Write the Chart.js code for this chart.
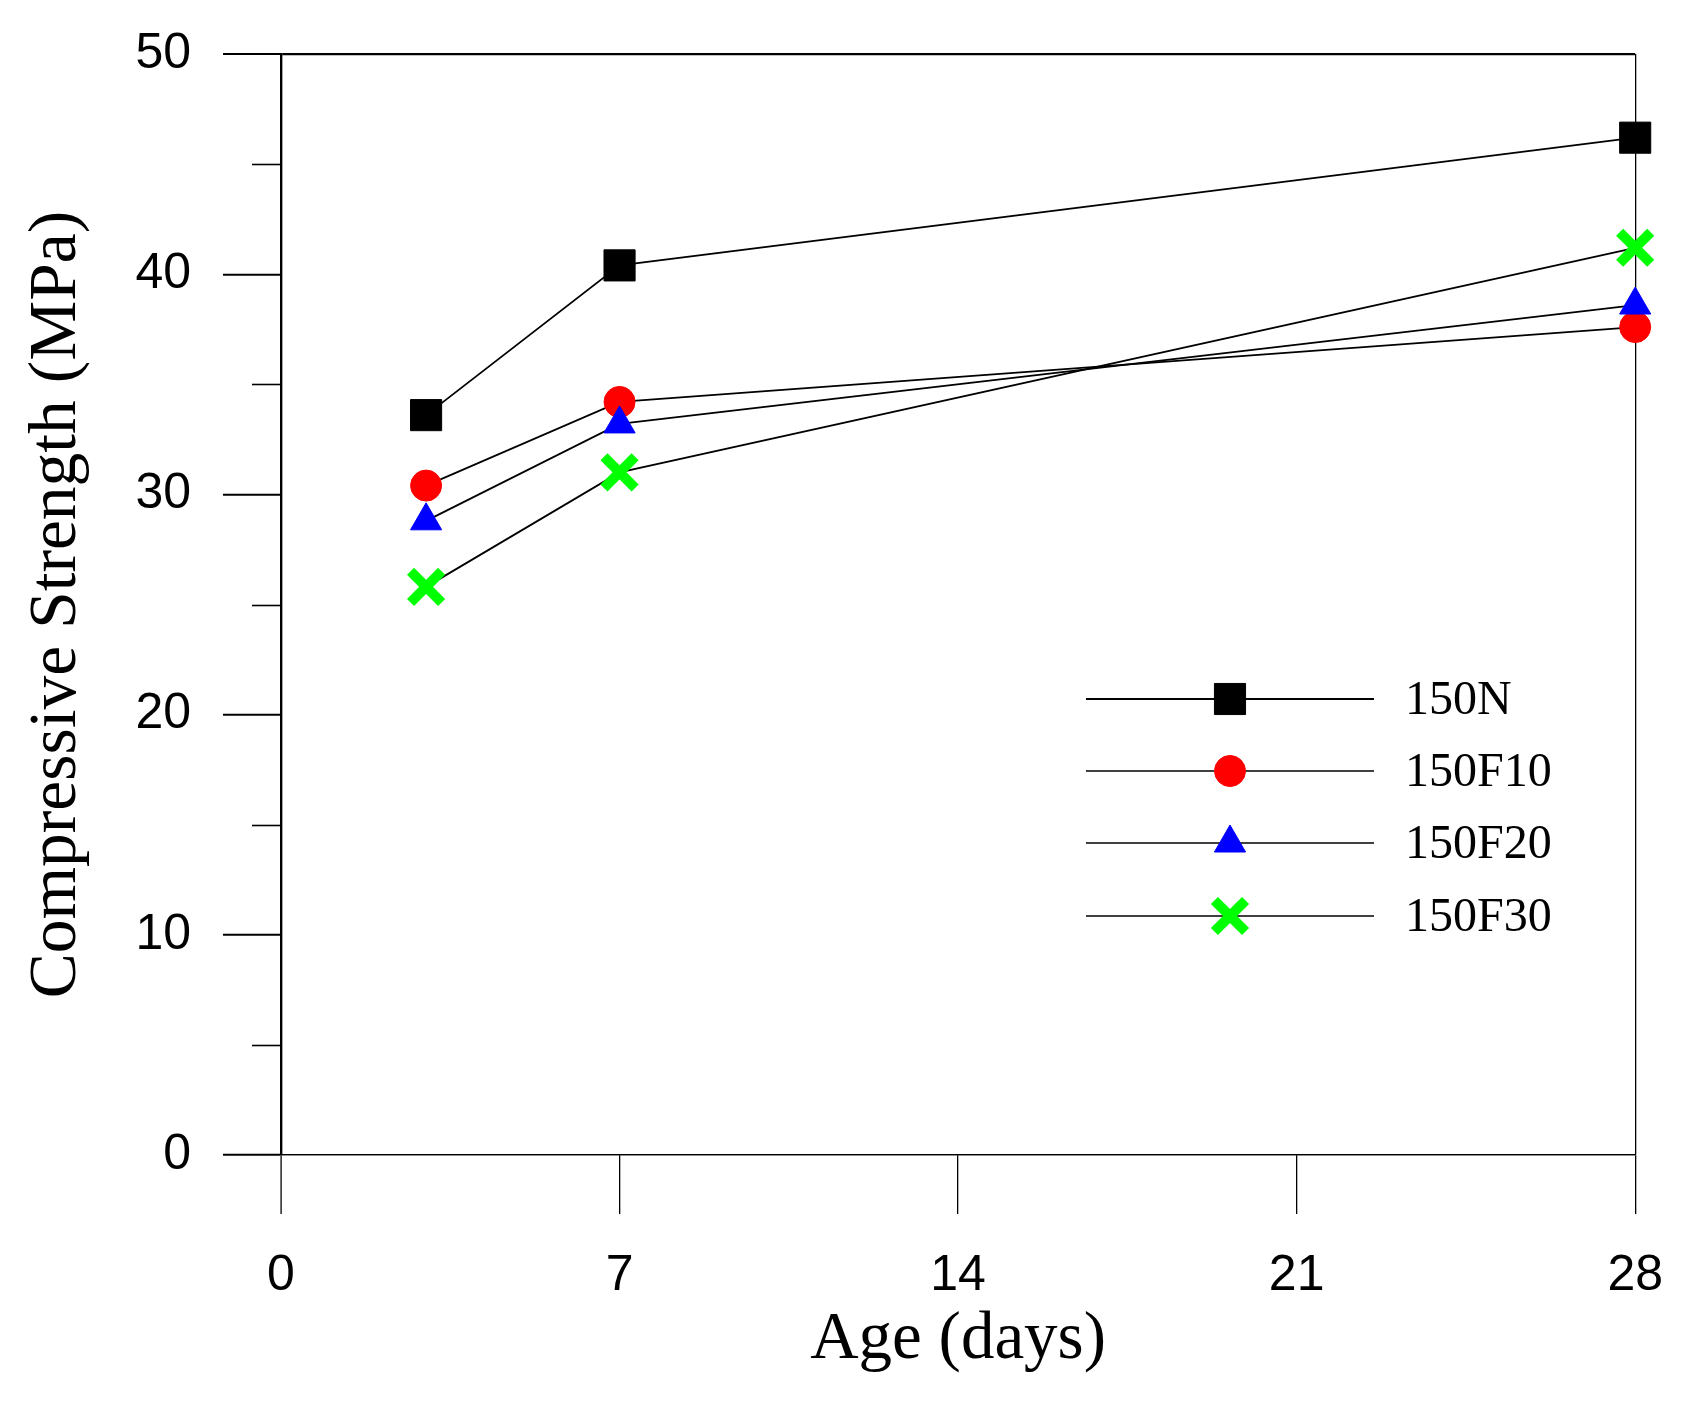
<!DOCTYPE html>
<html>
<head>
<meta charset="utf-8">
<script src="https://cdn.jsdelivr.net/npm/chart.js@4/dist/chart.umd.min.js"></script>
<style>
  html, body { margin: 0; padding: 0; background: #fff; }
  #wrap { width: 1695px; height: 1404px; }
</style>
</head>
<body>
<div id="wrap"><canvas id="strengthChart" width="1695" height="1404"></canvas></div>
<script>
// Age in days and compressive strength (MPa) per mix
const ages = [3, 7, 28];
const mixNames = ['150N', '150F10', '150F20', '150F30'];
const s150N = [33.6, 40.4, 46.2];
const s150F10 = [30.4, 34.2, 37.6];
const s150F20 = [28.8, 33.2, 38.6];
const s150F30 = [25.8, 31.0, 41.2];

const xTickValues = [0, 7, 14, 21, 28];
const yTickValues = [0, 10, 20, 30, 40, 50];
const yMinorValues = [5, 15, 25, 35, 45];

const sansFont = "'Liberation Sans', Arial, sans-serif";
const serifFont = "'Liberation Serif', 'Times New Roman', serif";

function toPoints(values) {
    return ages.map((a, i) => ({ x: a, y: values[i] }));
}

const markers = [
    { style: 'rect', radius: 22, color: '#000000', border: 1, order: 1 },
    { style: 'circle', radius: 15.5, color: '#ff0000', border: 1, order: 3 },
    { style: 'triangle', radius: 18, color: '#0000ff', border: 1, order: 2 },
    { style: 'crossRot', radius: 22, color: '#00ff00', border: 10, order: 0 }
];
const seriesValues = [s150N, s150F10, s150F20, s150F30];

const datasets = mixNames.map((name, i) => ({
    label: name,
    data: toPoints(seriesValues[i]),
    borderColor: '#000000',
    borderWidth: 1.8,
    pointStyle: markers[i].style,
    pointRadius: markers[i].radius,
    pointHoverRadius: markers[i].radius,
    pointBackgroundColor: markers[i].color,
    pointBorderColor: markers[i].color,
    pointBorderWidth: markers[i].border,
    order: markers[i].order,
    clip: false,
    tension: 0
}));

// minor y ticks and the in-plot legend
const extrasPlugin = {
    id: 'extras',
    afterDraw(chart) {
        const ctx = chart.ctx;
        const yScale = chart.scales.y;
        const left = chart.chartArea.left;
        ctx.save();
        ctx.strokeStyle = '#000';
        ctx.lineWidth = 1.6;
        yMinorValues.forEach(v => {
            const py = Math.round(yScale.getPixelForValue(v)) + 0.5;
            ctx.beginPath();
            ctx.moveTo(left - 29, py);
            ctx.lineTo(left, py);
            ctx.stroke();
        });

        // legend
        const lineX0 = 1086, lineX1 = 1374, markX = 1230, textX = 1405;
        const rowY = [699, 771, 843, 916];
        ctx.font = '48px ' + serifFont;
        ctx.textBaseline = 'middle';
        ctx.textAlign = 'left';
        chart.data.datasets.forEach((ds, i) => {
            const y = rowY[i];
            ctx.strokeStyle = '#000';
            ctx.lineWidth = i === 0 ? 2 : 1.3;
            ctx.beginPath();
            ctx.moveTo(lineX0, y);
            ctx.lineTo(lineX1, y);
            ctx.stroke();
            ctx.fillStyle = ds.pointBackgroundColor;
            ctx.strokeStyle = ds.pointBorderColor;
            ctx.lineWidth = ds.pointBorderWidth;
            Chart.helpers.drawPoint(ctx, {
                pointStyle: ds.pointStyle,
                radius: ds.pointRadius,
                rotation: 0,
                borderWidth: ds.pointBorderWidth
            }, markX, y);
            ctx.fillStyle = '#000';
            ctx.fillText(ds.label, textX, y + 2);
        });
        ctx.restore();
    }
};

new Chart(document.getElementById('strengthChart'), {
    type: 'line',
    data: { datasets: datasets },
    options: {
        responsive: false,
        devicePixelRatio: 1,
        animation: false,
        layout: { padding: { top: 54, right: 50, left: 0, bottom: 0 } },
        plugins: {
            legend: { display: false },
            tooltip: { enabled: false }
        },
        scales: {
            x: {
                type: 'linear',
                min: 0,
                max: 28,
                z: 1,
                afterBuildTicks: scale => { scale.ticks = xTickValues.map(v => ({ value: v })); },
                afterFit: scale => { scale.height = 249; },
                ticks: {
                    color: '#000',
                    font: { family: sansFont, size: 50 },
                    padding: 32,
                    maxRotation: 0
                },
                grid: {
                    color: c => (c.tick && (c.tick.value === 0 || c.tick.value === 28)) ? '#000' : 'rgba(0,0,0,0)',
                    lineWidth: c => (c.tick && c.tick.value === 0) ? 2.2 : 1.3,
                    tickColor: '#000',
                    tickWidth: 1.3,
                    tickLength: 59
                },
                border: { display: true, color: '#000', width: 1.3 },
                title: {
                    display: true,
                    text: 'Age (days)',
                    color: '#000',
                    font: { family: serifFont, size: 67 },
                    padding: { top: 0, bottom: 23 }
                }
            },
            y: {
                min: 0,
                max: 50,
                afterBuildTicks: scale => { scale.ticks = yTickValues.map(v => ({ value: v })); },
                afterFit: scale => {
                    scale.width = 281;
                    scale.paddingTop = 10;
                    scale.paddingBottom = 10;
                },
                ticks: {
                    color: '#000',
                    font: { family: sansFont, size: 50 },
                    padding: 32
                },
                grid: {
                    color: c => (c.tick && (c.tick.value === 0 || c.tick.value === 50)) ? '#000' : 'rgba(0,0,0,0)',
                    lineWidth: c => (c.tick && c.tick.value === 50) ? 2.2 : 1.3,
                    tickColor: '#000',
                    tickWidth: 2,
                    tickLength: 58
                },
                border: { display: true, color: '#000', width: 2.2 },
                title: {
                    display: true,
                    text: 'Compressive Strength (MPa)',
                    color: '#000',
                    font: { family: serifFont, size: 67.5 },
                    padding: { top: 17, bottom: 0 }
                }
            }
        }
    },
    plugins: [extrasPlugin]
});
</script>
</body>
</html>
